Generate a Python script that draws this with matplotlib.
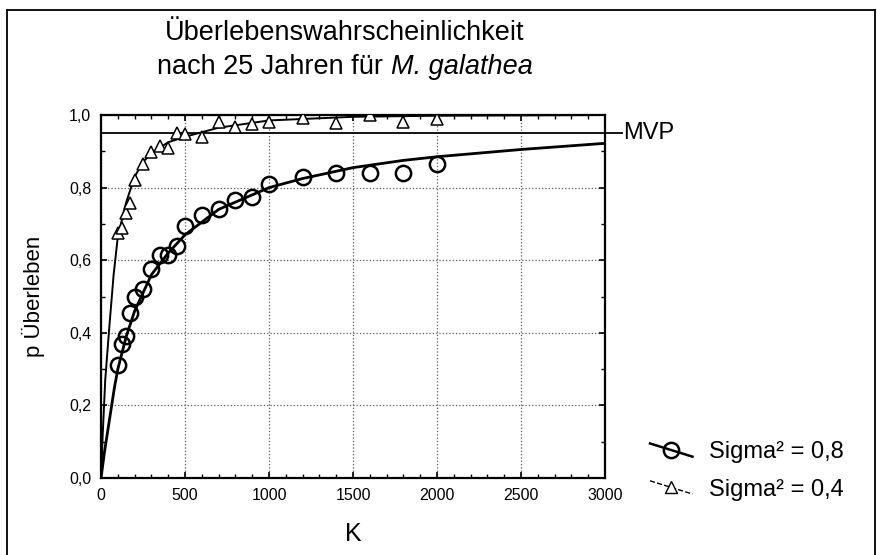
import matplotlib
matplotlib.use("Agg")
import matplotlib.pyplot as plt
from matplotlib.lines import Line2D
from matplotlib.legend_handler import HandlerLine2D
from matplotlib.ticker import MultipleLocator, FuncFormatter

plt.rcParams["font.family"] = ["Liberation Sans", "DejaVu Sans"]

# simulated survival points
k_points = [100, 125, 150, 175, 200, 250, 300, 350, 400, 450, 500,
            600, 700, 800, 900, 1000, 1200, 1400, 1600, 1800, 2000]
p_sigma08 = [0.31, 0.37, 0.39, 0.455, 0.50, 0.52, 0.575, 0.615, 0.615, 0.64, 0.695,
             0.725, 0.74, 0.765, 0.773, 0.81, 0.83, 0.84, 0.84, 0.84, 0.865]
p_sigma04 = [0.675, 0.69, 0.73, 0.757, 0.82, 0.865, 0.897, 0.915, 0.908, 0.95, 0.947,
             0.94, 0.98, 0.968, 0.976, 0.982, 0.991, 0.977, 1.0, 0.982, 0.988]

# fitted curves
k_fit08 = [0, 20, 40, 60, 80, 100, 150, 200, 300, 400, 500, 700, 1000, 1200, 1500, 1800, 2000, 2500, 3000]
p_fit08 = [0, 0.07, 0.13, 0.19, 0.25, 0.30, 0.39, 0.46, 0.56, 0.62, 0.67, 0.74, 0.80, 0.825,
           0.855, 0.875, 0.885, 0.905, 0.922]
k_fit04 = [0, 10, 25, 50, 75, 100, 150, 200, 250, 300, 400, 500, 700, 1000, 1500, 2000, 3000]
p_fit04 = [0, 0.12, 0.27, 0.42, 0.56, 0.665, 0.76, 0.83, 0.87, 0.895, 0.925, 0.94, 0.965,
           0.985, 0.995, 0.998, 1.0]

MVP = 0.95
labels = ["Sigma² = 0,8", "Sigma² = 0,4"]


# legend key drawn as a slanted line through the marker, like the scanned original
class SlantHandler(HandlerLine2D):
    def create_artists(self, legend, orig_handle, xdescent, ydescent, width, height,
                       fontsize, trans):
        x0, x1 = -xdescent, width - xdescent
        ymid = (height - ydescent) / 2
        line = Line2D([x0, x1], [ymid + 0.4 * height, ymid - 0.4 * height])
        self.update_prop(line, orig_handle, legend)
        line.set_marker("")
        mark = Line2D([(x0 + x1) / 2], [ymid])
        self.update_prop(mark, orig_handle, legend)
        mark.set_linestyle("none")
        line.set_transform(trans)
        mark.set_transform(trans)
        return [line, mark]


fig = plt.figure(figsize=(8.77, 5.55), dpi=100)
ax = fig.add_axes([0.1152, 0.1387, 0.5747, 0.6541])

ax.plot(k_fit08, p_fit08, color="black", lw=2.0, zorder=3)
ax.plot(k_fit04, p_fit04, color="black", lw=1.4, zorder=3)
ax.plot(k_points, p_sigma08, ls="none", marker="o", ms=11, mfc="none",
        mec="black", mew=1.8, zorder=4)
ax.plot(k_points, p_sigma04, ls="none", marker="^", ms=9, mfc="white",
        mec="black", mew=1.1, zorder=4)

# MVP line runs a bit past the right axis
ax.axhline(MVP, xmin=0, xmax=1.034, color="black", lw=1.3, clip_on=False, zorder=3)
ax.text(1.036, MVP, "MVP", transform=ax.get_yaxis_transform(), fontsize=17,
        va="center", ha="left")

ax.set_xlim(0, 3000)
ax.set_ylim(0, 1.0)
ax.xaxis.set_major_locator(MultipleLocator(500))
ax.xaxis.set_minor_locator(MultipleLocator(100))
ax.yaxis.set_major_locator(MultipleLocator(0.2))
ax.yaxis.set_minor_locator(MultipleLocator(0.1))
ax.yaxis.set_major_formatter(FuncFormatter(lambda v, _: f"{v:.1f}".replace(".", ",")))
ax.tick_params(which="both", direction="in", top=True, right=True, labelsize=11.5)
ax.tick_params(which="major", length=4, width=1.2, pad=7)
ax.tick_params(which="minor", length=3, width=1.0)
ax.grid(True, which="major", ls=":", color="0.35", lw=0.9)
for s in ax.spines.values():
    s.set_linewidth(1.6)

ax.set_xlabel("K", fontsize=18, labelpad=14)
ax.set_ylabel("p Überleben", fontsize=16, labelpad=17)

# title; second line is half upright, half italic, so measure and join the two parts
fig.text(345 / 877, 1 - 33 / 555, "Überlebenswahrscheinlichkeit", fontsize=19.5,
         ha="center", va="center")
renderer = fig.canvas.get_renderer()
part1 = fig.text(0, 1 - 67 / 555, "nach 25 Jahren für ", fontsize=19.5,
                 ha="left", va="center")
part2 = fig.text(0, 1 - 67 / 555, "M. galathea", fontsize=19.5, style="italic",
                 ha="left", va="center")
w1 = part1.get_window_extent(renderer).width
w2 = part2.get_window_extent(renderer).width
start = 345 - (w1 + w2) / 2
part1.set_x(start / 877)
part2.set_x((start + w1) / 877)

handles = [
    Line2D([], [], color="black", lw=1.8, marker="o", ms=11, mfc="none", mec="black", mew=1.8),
    Line2D([], [], color="black", lw=1.0, ls="--", marker="^", ms=9, mfc="white",
           mec="black", mew=1.0),
]
fig.legend(handles, labels, loc="center left",
           bbox_to_anchor=(650 / 877, 1 - 471 / 555), frameon=False, fontsize=17,
           handlelength=1.8, handletextpad=0.7, labelspacing=0.65,
           borderpad=0, borderaxespad=0, handler_map={Line2D: SlantHandler()})

# outer frame of the figure
for xs, ys in [([7, 7], [10, 555]), ([7, 875], [10, 10]), ([875, 875], [10, 555])]:
    fig.add_artist(Line2D([x / 877 for x in xs], [1 - y / 555 for y in ys],
                          color="black", lw=1.3))

fig.savefig("out.png", dpi=100)
